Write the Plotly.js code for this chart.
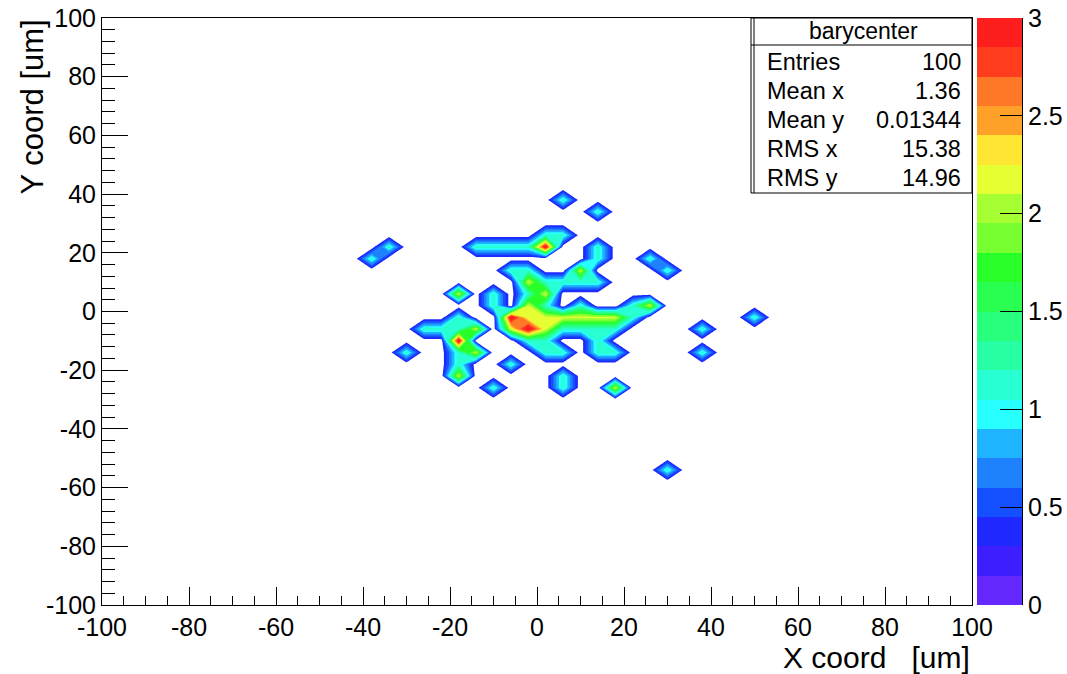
<!DOCTYPE html>
<html>
<head>
<meta charset="utf-8">
<script src="https://cdn.plot.ly/plotly-3.0.1.min.js"></script>
<style>
  html, body { margin: 0; padding: 0; background: #ffffff; }
  #chart { width: 1067px; height: 674px; }
</style>
</head>
<body>
<div id="chart"></div>
<script>
// ---- histogram binning (TH2 "barycenter": 50 x 50 bins, -100..100 um) ----
const nBins = 50;
const axisMin = -100;
const axisMax = 100;

// ---- non-empty bins (bin centre x, bin centre y, count) ----
const binX = [
  6, 14, -38, -34, 26, 30, 50, 38, 38, -30, -10, -6, 18, 6, 6, 30, -18,
  -14, -10, -6, -2, 2, 2, 6,
  14, 14, 10, 14, 10, 6, 2,
  -6, -2,
  -2,
  -10, -2, 2,
  -10, -2, 2, 10, 22, 26,
  -6, -2, 2, 6, 10, 14, 18, 22,
  -6, -2, 2, 6, 10, 14, 18,
  -2, 2, 14,
  2, 6, 14, 18,
  -26, -22, -18, -18, -14, -18, -18, -14, -18, -18
];
const binY = [
  38, 34, 18, 22, 18, 14, -2, -6, -14, -14, -26, -18, -26, -22, -26, -54, 6,
  22, 22, 22, 22, 22, 26, 26,
  22, 18, 14, 10, 10, 10, 10,
  14, 14,
  10,
  6, 6, 6,
  2, 2, 2, 2, 2, 2,
  -2, -2, -2, -2, -2, -2, -2, -2,
  -6, -6, -6, -6, -6, -6, -6,
  -10, -10, -10,
  -14, -14, -14, -14,
  -6, -6, -2, -6, -6, -10, -14, -14, -18, -22
];
const binCount = [
  1, 1, 1, 1, 1, 1, 1, 1, 1, 1, 1, 1, 2, 1, 1, 1, 2,
  1, 1, 1, 1, 3, 1, 1,
  1, 1, 2, 1, 1, 1, 1,
  1, 1,
  2,
  1, 1, 2,
  1, 2, 1, 1, 1, 2,
  3, 2, 2, 2, 2, 2, 2, 1,
  2, 3, 2, 1, 1, 1, 1,
  1, 1, 1,
  1, 1, 1, 1,
  1, 1, 1, 1, 2, 3, 1, 2, 1, 2
];

// ---- contour levels (20 levels, 0..3) and ROOT palette colours per band ----
const contourLevels = [0, 0.15, 0.3, 0.45, 0.6, 0.75, 0.9, 1.05, 1.2, 1.35, 1.5,
                       1.65, 1.8, 1.95, 2.1, 2.25, 2.4, 2.55, 2.7, 2.85, 3.0];
const paletteColors = [
  '#6428ff', '#3c1eff', '#1e28ff', '#1450ff', '#1e82ff', '#1eb4ff', '#28ffff',
  '#28ffd2', '#28ffa5', '#28ff7d', '#28ff50', '#28ff28', '#78ff32', '#a5ff32',
  '#e6ff32', '#ffe632', '#ffa028', '#ff7828', '#ff3c1e', '#ff1e1e'
];
const colorbarTicks = [0, 0.5, 1, 1.5, 2, 2.5, 3];
const xTicks = [-100, -80, -60, -40, -20, 0, 20, 40, 60, 80, 100];
const yTicks = [-100, -80, -60, -40, -20, 0, 20, 40, 60, 80, 100];

// ---- stats box texts ----
const statsTitle = 'barycenter';
const statsLabels = ['Entries', 'Mean x', 'Mean y', 'RMS x', 'RMS y'];
const statsValues = ['100', '1.36', '0.01344', '15.38', '14.96'];

// ---- build the grid that the contour trace needs ----
const binWidth = (axisMax - axisMin) / nBins;
const centers = [];
for (let i = 0; i < nBins; i++) centers.push(axisMin + binWidth * (i + 0.5));
const z = centers.map(() => centers.map(() => 0));
for (let k = 0; k < binX.length; k++) {
  const ix = Math.round((binX[k] - axisMin) / binWidth - 0.5);
  const iy = Math.round((binY[k] - axisMin) / binWidth - 0.5);
  z[iy][ix] += binCount[k];
}

// step colour scale: below first level white, then one palette colour per band
const nBands = contourLevels.length - 1;            // 20
const contourScale = [[0, '#ffffff'], [0.025, '#ffffff']];
for (let k = 1; k <= nBands; k++) {
  const c = paletteColors[Math.min(k + 1, nBands - 1)];
  const a = (k - 0.5) / nBands;
  const b = Math.min(1, (k + 0.5) / nBands);
  contourScale.push([a, c]);
  contourScale.push([b, c]);
}

// colour bar scale (band index -> palette colour)
const barScale = [];
for (let k = 0; k < nBands; k++) {
  barScale.push([k / nBands, paletteColors[k]]);
  barScale.push([(k + 1) / nBands, paletteColors[k]]);
}
const barZ = paletteColors.map((c, k) => [k]);

const FONT = 'Liberation Sans, Arial, Helvetica, sans-serif';

const contourTrace = {
  type: 'contour',
  x: centers,
  y: centers,
  z: z,
  autocontour: false,
  contours: {
    start: contourLevels[1],
    end: contourLevels[contourLevels.length - 1],
    size: contourLevels[1] - contourLevels[0],
    coloring: 'fill',
    showlines: false
  },
  line: { width: 0, smoothing: 0 },
  colorscale: contourScale,
  showscale: false,
  hoverinfo: 'skip',
  xaxis: 'x',
  yaxis: 'y'
};

const colorbarTrace = {
  type: 'heatmap',
  x: [0, 1],
  y: contourLevels,
  z: barZ,
  zmin: -0.5,
  zmax: nBands - 0.5,
  colorscale: barScale,
  showscale: false,
  hoverinfo: 'skip',
  xaxis: 'x2',
  yaxis: 'y2'
};

// page geometry (ROOT frame 102..972 x 18..605)
const L = 102, R = 45, T = 18, B = 69;
const W = 1067, H = 674;
const pw = W - L - R, ph = H - T - B;
const px = v => (v - L) / pw;
const py = v => (H - B - v) / ph;

const tickFont = { family: FONT, size: 25, color: '#000000' };

const annotations = [];
annotations.push({
  xref: 'paper', yref: 'paper', x: px(863), y: py(31), xanchor: 'center', yanchor: 'middle',
  text: statsTitle, showarrow: false, font: { family: FONT, size: 23, color: '#000' }
});
const rowY = [62, 91, 120, 149, 178];
for (let i = 0; i < statsLabels.length; i++) {
  annotations.push({
    xref: 'paper', yref: 'paper', x: px(765), y: py(rowY[i]), xanchor: 'left', yanchor: 'middle',
    text: statsLabels[i], showarrow: false, font: { family: FONT, size: 23.5, color: '#000' }
  });
  annotations.push({
    xref: 'paper', yref: 'paper', x: px(963), y: py(rowY[i]), xanchor: 'right', yanchor: 'middle',
    text: statsValues[i], showarrow: false, font: { family: FONT, size: 23.5, color: '#000' }
  });
}
// axis titles (ROOT places them at the axis end)
annotations.push({
  xref: 'paper', yref: 'paper', x: px(972), y: py(657), xanchor: 'right', yanchor: 'middle',
  text: 'X coord\u00a0\u00a0\u00a0[um]', showarrow: false, font: { family: FONT, size: 30, color: '#000' }
});
annotations.push({
  xref: 'paper', yref: 'paper', x: px(32), y: py(18), xanchor: 'center', yanchor: 'top',
  text: 'Y coord [um]', textangle: -90, showarrow: false, font: { family: FONT, size: 31, color: '#000' }
});

const shapes = [
  { type: 'rect', xref: 'paper', yref: 'paper', x0: px(751), x1: px(972), y0: py(193), y1: py(18),
    fillcolor: '#ffffff', line: { color: '#000000', width: 1 }, layer: 'above' },
  { type: 'line', xref: 'paper', yref: 'paper', x0: px(754), x1: px(754), y0: py(193), y1: py(18),
    line: { color: '#000000', width: 1 }, layer: 'above' },
  { type: 'line', xref: 'paper', yref: 'paper', x0: px(751), x1: px(972), y0: py(45), y1: py(45),
    line: { color: '#000000', width: 1 }, layer: 'above' }
];

const layout = {
  width: W,
  height: H,
  margin: { l: L, r: R, t: T, b: B, pad: 0 },
  paper_bgcolor: '#ffffff',
  plot_bgcolor: '#ffffff',
  showlegend: false,
  font: { family: FONT, color: '#000000' },
  xaxis: {
    domain: [0, px(972)],
    range: [axisMin, axisMax],
    tickvals: xTicks,
    ticktext: xTicks.map(String),
    ticks: 'inside', ticklen: 18, tickwidth: 1, tickcolor: '#000000',
    minor: { dtick: 5, ticks: 'inside', ticklen: 9, tickwidth: 1, tickcolor: '#000000', showgrid: false },
    showline: true, linecolor: '#000000', linewidth: 1, mirror: true,
    showgrid: false, zeroline: false,
    tickfont: tickFont,
    anchor: 'y'
  },
  yaxis: {
    domain: [0, 1],
    range: [axisMin, axisMax],
    tickvals: yTicks,
    ticktext: yTicks.map(String),
    ticks: 'inside', ticklen: 26, tickwidth: 1, tickcolor: '#000000',
    minor: { dtick: 4, ticks: 'inside', ticklen: 13, tickwidth: 1, tickcolor: '#000000', showgrid: false },
    showline: true, linecolor: '#000000', linewidth: 1, mirror: true,
    showgrid: false, zeroline: false,
    tickfont: tickFont,
    anchor: 'x'
  },
  xaxis2: {
    domain: [px(977), 1],
    range: [0, 1],
    visible: false,
    anchor: 'y2'
  },
  yaxis2: {
    domain: [0, 1],
    range: [0, 3],
    tickvals: colorbarTicks,
    ticktext: colorbarTicks.map(String),
    side: 'right',
    ticks: 'inside', ticklen: 22, tickwidth: 1, tickcolor: '#000000',
    showline: true, linecolor: '#000000', linewidth: 1,
    showgrid: false, zeroline: false,
    tickfont: tickFont,
    anchor: 'x2'
  },
  annotations: annotations,
  shapes: shapes
};

Plotly.newPlot('chart', [contourTrace, colorbarTrace], layout, { displayModeBar: false, staticPlot: true });
</script>
</body>
</html>
